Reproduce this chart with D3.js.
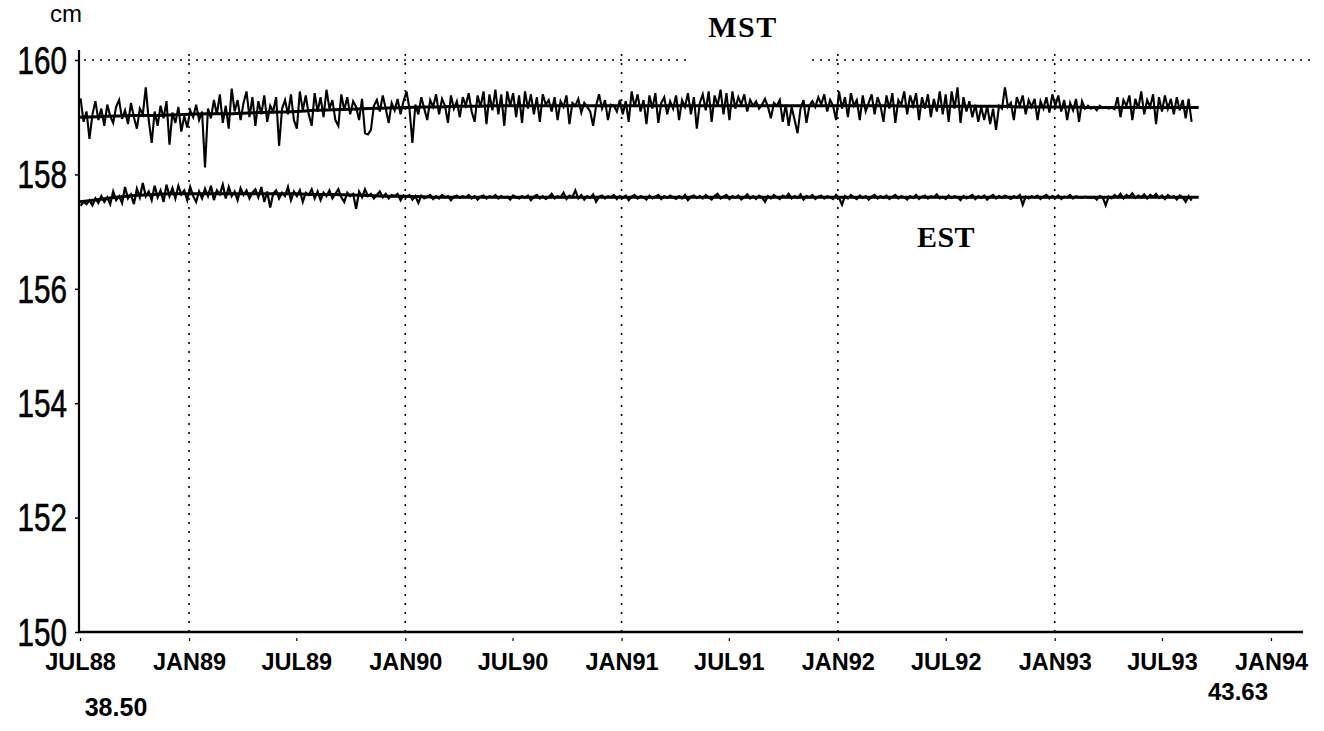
<!DOCTYPE html>
<html>
<head>
<meta charset="utf-8">
<script src="https://cdn.jsdelivr.net/npm/d3@7"></script>
<style>
  html, body { margin: 0; padding: 0; background: #fff; }
  svg { display: block; }
</style>
</head>
<body>
<svg id="chart" width="1324" height="731"></svg>
<script>
// Sea-level record of two stations, cm, sampled every 5 days from 2 Jul 1988
const seriesStart = "1988-07-02";
const stepDays = 5;

const mstValues = [
  159.33,158.92,159.10,158.62,159.05,159.28,158.95,159.15,158.85,159.22,
  159.02,158.90,159.18,159.30,158.97,159.12,158.88,159.25,159.00,158.80,
  159.15,159.05,159.52,158.95,158.55,159.10,158.85,159.20,158.98,159.28,
  158.52,159.08,158.90,159.18,158.75,159.02,158.82,159.12,159.00,159.22,
  158.95,159.10,158.12,159.15,158.98,159.30,159.05,159.40,158.90,159.20,
  158.80,159.50,159.10,159.30,158.95,159.25,159.45,159.00,159.35,158.85,
  159.28,159.05,159.38,158.92,159.20,159.10,159.35,158.50,159.15,159.30,
  159.05,159.40,158.95,158.80,159.45,159.12,159.38,159.05,158.85,159.42,
  159.10,159.35,159.00,159.48,159.15,159.30,158.95,158.85,159.40,159.12,
  159.35,159.05,159.28,159.18,158.95,159.32,158.72,158.70,158.78,159.20,
  159.30,159.10,159.38,159.15,158.90,159.25,159.12,159.32,159.05,159.28,
  159.45,159.15,158.55,159.22,159.05,159.35,159.15,158.95,159.30,159.18,
  159.40,159.05,159.32,159.20,158.90,159.38,159.15,159.28,159.00,159.35,
  159.20,159.42,159.10,158.92,159.38,159.18,159.45,158.88,159.40,159.12,
  159.48,159.05,159.40,158.85,159.45,159.20,159.42,159.00,159.38,158.90,
  159.45,159.15,159.40,159.05,159.35,158.92,159.40,159.22,159.30,159.10,
  159.35,158.95,159.28,159.18,159.38,158.88,159.25,159.20,159.32,159.08,
  159.25,159.18,159.10,158.85,159.20,159.40,159.15,159.30,158.95,159.22,
  159.20,159.10,159.30,159.05,159.28,158.92,159.45,159.18,159.40,159.10,
  159.30,158.88,159.38,159.15,159.42,158.90,159.25,159.35,159.05,159.28,
  159.15,159.38,158.95,159.30,159.18,159.42,159.05,159.35,158.80,159.25,
  159.40,159.12,159.45,158.92,159.38,159.20,159.48,159.05,159.42,158.95,
  159.45,159.15,159.35,159.22,159.40,159.10,159.30,159.20,159.28,159.15,
  159.22,159.32,159.18,158.98,159.25,159.20,159.30,158.92,159.22,158.85,
  159.18,158.95,158.72,159.15,159.30,158.90,159.20,159.28,159.18,159.35,
  159.22,159.40,159.10,159.30,159.20,158.95,159.45,159.15,159.35,159.00,
  159.42,159.20,159.30,158.95,159.38,159.10,159.25,159.40,159.05,159.35,
  159.20,158.92,159.38,159.15,159.42,158.90,159.30,159.22,159.45,159.05,
  159.38,159.20,159.42,158.95,159.35,159.15,159.40,159.00,159.32,159.10,
  159.45,159.05,159.40,158.92,159.45,159.15,159.52,158.90,159.35,159.10,
  159.28,159.00,159.22,158.92,159.18,158.95,159.20,158.88,159.15,158.78,
  159.20,159.15,159.52,159.18,159.25,158.95,159.35,159.20,159.38,159.05,
  159.30,159.18,159.32,158.95,159.28,159.15,159.35,159.08,159.40,159.20,
  159.38,159.10,159.30,158.95,159.25,159.12,159.32,158.92,159.28,159.15,
  159.20,159.15,159.18,159.12,159.20,159.16,159.18,159.15,159.17,159.14,
  159.35,159.00,159.30,159.20,159.38,158.95,159.32,159.15,159.45,159.05,
  159.30,159.18,159.40,158.88,159.35,159.10,159.38,159.15,159.32,159.05,
  159.35,159.12,159.30,158.98,159.32,158.92
];

const estValues = [
  157.45,157.52,157.48,157.55,157.46,157.58,157.50,157.62,157.52,157.60,
  157.48,157.70,157.55,157.62,157.50,157.78,157.58,157.65,157.48,157.75,
  157.60,157.85,157.62,157.70,157.55,157.80,157.60,157.72,157.52,157.82,
  157.62,157.76,157.58,157.80,157.65,157.72,157.55,157.78,157.62,157.52,
  157.70,157.58,157.75,157.62,157.80,157.55,157.72,157.65,157.82,157.58,
  157.78,157.62,157.70,157.55,157.76,157.64,157.72,157.58,157.68,157.74,
  157.60,157.78,157.52,157.70,157.42,157.66,157.72,157.58,157.68,157.62,
  157.78,157.55,157.70,157.62,157.72,157.52,157.68,157.64,157.74,157.58,
  157.70,157.55,157.68,157.62,157.72,157.58,157.66,157.74,157.60,157.52,
  157.68,157.62,157.66,157.40,157.70,157.60,157.74,157.62,157.66,157.58,
  157.64,157.70,157.60,157.66,157.58,157.64,157.62,157.66,157.55,157.63,
  157.60,157.64,157.56,157.62,157.50,157.63,157.58,157.61,157.64,157.57,
  157.62,157.58,157.64,157.60,157.62,157.55,157.61,157.63,157.59,157.62,
  157.60,157.64,157.58,157.62,157.56,157.61,157.63,157.58,157.62,157.60,
  157.64,157.58,157.62,157.59,157.61,157.56,157.63,157.60,157.58,157.62,
  157.59,157.63,157.55,157.61,157.64,157.58,157.62,157.57,157.60,157.66,
  157.58,157.62,157.60,157.68,157.57,157.63,157.60,157.72,157.58,157.64,
  157.56,157.62,157.59,157.65,157.52,157.61,157.63,157.58,157.62,157.60,
  157.64,157.57,157.62,157.59,157.63,157.55,157.61,157.64,157.58,157.62,
  157.60,157.56,157.63,157.58,157.61,157.64,157.57,157.62,157.59,157.63,
  157.60,157.57,157.62,157.58,157.64,157.55,157.61,157.63,157.59,157.62,
  157.58,157.64,157.60,157.56,157.62,157.66,157.58,157.61,157.64,157.57,
  157.62,157.59,157.63,157.56,157.60,157.65,157.58,157.62,157.57,157.63,
  157.60,157.52,157.62,157.58,157.64,157.60,157.57,157.63,157.60,157.66,
  157.58,157.62,157.59,157.65,157.56,157.62,157.60,157.64,157.57,157.61,
  157.63,157.58,157.62,157.60,157.57,157.64,157.59,157.47,157.62,157.58,
  157.64,157.60,157.57,157.63,157.59,157.62,157.56,157.61,157.64,157.58,
  157.62,157.59,157.63,157.57,157.61,157.64,157.58,157.62,157.60,157.56,
  157.62,157.59,157.64,157.57,157.61,157.63,157.58,157.62,157.60,157.65,
  157.58,157.61,157.57,157.63,157.59,157.62,157.60,157.55,157.62,157.58,
  157.61,157.64,157.57,157.62,157.59,157.63,157.56,157.61,157.64,157.58,
  157.62,157.59,157.63,157.60,157.57,157.62,157.59,157.64,157.47,157.61,
  157.58,157.62,157.60,157.63,157.57,157.61,157.64,157.58,157.62,157.59,
  157.63,157.57,157.61,157.60,157.64,157.58,157.62,157.60,157.59,157.61,
  157.60,157.59,157.61,157.56,157.62,157.60,157.46,157.61,157.58,157.64,
  157.60,157.66,157.58,157.64,157.61,157.67,157.59,157.63,157.60,157.65,
  157.58,157.64,157.61,157.66,157.59,157.63,157.57,157.64,157.60,157.62,
  157.56,157.63,157.60,157.52,157.62,157.54
];

// Smoothed level, first of each month from Jul 1988 to Sep 1993
const trendStart = "1988-07-01";
const mstTrend = [
  159.00,159.01,159.02,159.03,159.03,159.04,
  159.05,159.06,159.06,159.07,159.08,159.09,159.10,159.12,159.13,159.14,159.15,159.16,
  159.17,159.18,159.18,159.19,159.19,159.20,159.20,159.20,159.20,159.20,159.20,159.20,
  159.20,159.20,159.20,159.20,159.20,159.20,159.20,159.20,159.20,159.20,159.20,159.20,
  159.20,159.20,159.20,159.20,159.19,159.19,159.19,159.19,159.19,159.19,159.18,159.18,
  159.18,159.18,159.17,159.17,159.17,159.17,159.17,159.17,159.17
];
const estTrend = [
  157.52,157.56,157.60,157.63,157.65,157.66,
  157.66,157.66,157.66,157.66,157.66,157.66,157.66,157.65,157.65,157.64,157.63,157.62,
  157.62,157.61,157.60,157.60,157.60,157.60,157.60,157.60,157.60,157.60,157.60,157.60,
  157.60,157.60,157.60,157.60,157.60,157.60,157.60,157.60,157.60,157.60,157.60,157.60,
  157.60,157.60,157.60,157.60,157.60,157.60,157.60,157.60,157.60,157.60,157.60,157.60,
  157.60,157.60,157.60,157.60,157.60,157.60,157.60,157.60,157.60
];

const yTicks = [150, 152, 154, 156, 158, 160];
const xTicks = ["JUL88","JAN89","JUL89","JAN90","JUL90","JAN91","JUL91",
                "JAN92","JUL92","JAN93","JUL93","JAN94"];
const gridMonths = ["JAN89","JAN90","JAN91","JAN92","JAN93"];
const seriesNames = ["MST", "EST"];
const axisNotes = ["38.50", "43.63"];

// ---------------------------------------------------------------
const svg = d3.select("#chart");
const parse = d3.timeParse("%Y-%m-%d");
const parseTick = d3.timeParse("%b%y");
const tickDate = s => parseTick(s.charAt(0) + s.slice(1).toLowerCase());

const x = d3.scaleTime()
  .domain([tickDate("JUL88"), tickDate("JAN94")])
  .range([80, 1271]);
const y = d3.scaleLinear().domain([150, 160]).range([632, 60]);

const t0 = parse(seriesStart);
const m0 = parse(trendStart);
const mst = mstValues.map((v, i) => ({ date: d3.timeDay.offset(t0, i * stepDays), v }));
const est = estValues.map((v, i) => ({ date: d3.timeDay.offset(t0, i * stepDays), v }));
const mstT = mstTrend.map((v, i) => ({ date: d3.timeMonth.offset(m0, i), v }));
const estT = estTrend.map((v, i) => ({ date: d3.timeMonth.offset(m0, i), v }));

// dotted grid: the 160 cm level and each January
const grid = svg.append("g").attr("stroke", "#000").attr("fill", "none");
grid.append("line")
  .attr("x1", x(tickDate("JUL88")) + 4).attr("x2", 1310)
  .attr("y1", y(160)).attr("y2", y(160))
  .attr("stroke-width", 1.6).attr("stroke-dasharray", "2,6");
grid.selectAll("line.v").data(gridMonths).join("line")
  .attr("class", "v")
  .attr("x1", d => x(tickDate(d))).attr("x2", d => x(tickDate(d)))
  .attr("y1", y(160) - 6).attr("y2", y(150))
  .attr("stroke-width", 1.6).attr("stroke-dasharray", "2,7");

// series: raw record plus smoothed level
const line = d3.line().x(d => x(d.date)).y(d => y(d.v));
const plot = svg.append("g").attr("fill", "none").attr("stroke", "#000")
  .attr("stroke-linejoin", "miter");
plot.append("path").datum(mst).attr("d", line).attr("stroke-width", 2.1);
plot.append("path").datum(est).attr("d", line).attr("stroke-width", 2.2);
[mstT, estT].forEach(s => plot.append("path").datum(s)
  .attr("d", d3.line().x(d => x(d.date)).y(d => y(d.v)).curve(d3.curveMonotoneX))
  .attr("stroke-width", 3));

// y axis: tall, condensed numerals
const squeeze = 0.78;
const yAxis = d3.axisLeft(y).tickValues(yTicks).tickSize(4).tickPadding(8)
  .tickFormat(d3.format("d"));
const gy = svg.append("g").attr("transform", `translate(${x(tickDate("JUL88")) - 1},0)`).call(yAxis);
gy.select(".domain").remove();
gy.selectAll(".tick line").attr("stroke", "#000").attr("stroke-width", 1.5);
gy.selectAll(".tick text")
  .attr("x", -12 / squeeze)
  .attr("transform", `scale(${squeeze},1)`)
  .attr("font-family", "'Liberation Sans', Arial, sans-serif")
  .attr("font-size", 38).attr("fill", "#000").attr("dy", "0.35em")
  .attr("stroke", "#000").attr("stroke-width", 0.6);
svg.append("line")
  .attr("x1", x(tickDate("JUL88")) - 1).attr("x2", x(tickDate("JUL88")) - 1)
  .attr("y1", 50).attr("y2", y(150) + 1)
  .attr("stroke", "#000").attr("stroke-width", 2.2);
svg.append("text").text("cm")
  .attr("x", 66).attr("y", 22).attr("text-anchor", "middle")
  .attr("font-family", "'Liberation Sans', Arial, sans-serif").attr("font-size", 24);

// x axis
const xAxis = d3.axisBottom(x).tickValues(xTicks.map(tickDate)).tickSize(4).tickPadding(17)
  .tickFormat(d => d3.timeFormat("%b%y")(d).toUpperCase());
const gx = svg.append("g").attr("transform", `translate(0,${y(150)})`).call(xAxis);
gx.select(".domain").remove();
gx.selectAll(".tick line").attr("stroke", "#000").attr("stroke-width", 1.2)
  .attr("y1", 6).attr("y2", 9);
gx.selectAll(".tick text")
  .attr("font-family", "'Liberation Sans', Arial, sans-serif")
  .attr("font-weight", "bold").attr("font-size", 23.5).attr("fill", "#000");
svg.append("line")
  .attr("x1", x(tickDate("JUL88")) - 2).attr("x2", 1303)
  .attr("y1", y(150)).attr("y2", y(150))
  .attr("stroke", "#000").attr("stroke-width", 2.6);

// series names
const serif = "'Liberation Serif', 'Times New Roman', serif";
svg.append("rect").attr("x", 690).attr("y", 50).attr("width", 120).attr("height", 20).attr("fill", "#fff");
svg.append("text").text(seriesNames[0])
  .attr("x", 743).attr("y", 37).attr("text-anchor", "middle")
  .attr("font-family", serif).attr("font-weight", "bold").attr("font-size", 30)
  .attr("letter-spacing", 1.5);
svg.append("text").text(seriesNames[1])
  .attr("x", 946).attr("y", 247).attr("text-anchor", "middle")
  .attr("font-family", serif).attr("font-weight", "bold").attr("font-size", 30)
  .attr("letter-spacing", 0.5);

// range notes under the time axis
svg.append("text").text(axisNotes[0])
  .attr("x", 116).attr("y", 716).attr("text-anchor", "middle")
  .attr("font-family", "'Liberation Sans', Arial, sans-serif")
  .attr("font-weight", "bold").attr("font-size", 25);
svg.append("text").text(axisNotes[1])
  .attr("x", 1238).attr("y", 700).attr("text-anchor", "middle")
  .attr("font-family", "'Liberation Sans', Arial, sans-serif")
  .attr("font-weight", "bold").attr("font-size", 24);
</script>
</body>
</html>
